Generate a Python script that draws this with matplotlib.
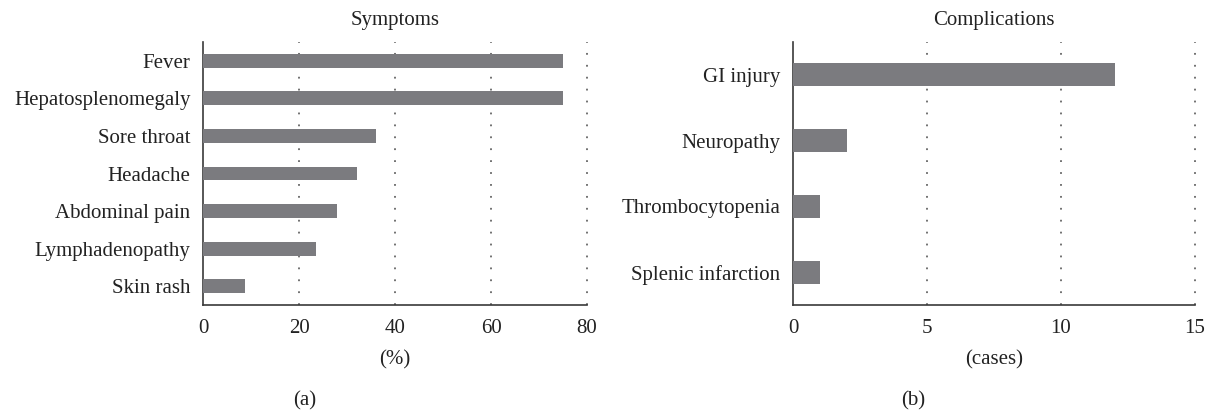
import matplotlib.pyplot as plt

symptoms = ['Fever', 'Hepatosplenomegaly', 'Sore throat', 'Headache',
            'Abdominal pain', 'Lymphadenopathy', 'Skin rash']
symptom_pct = [75, 75, 36, 32, 28, 23.6, 8.7]
sym_ticks = [0, 20, 40, 60, 80]

complications = ['GI injury', 'Neuropathy', 'Thrombocytopenia', 'Splenic infarction']
complication_cases = [12, 2, 1, 1]
comp_ticks = [0, 5, 10, 15]

plt.rcParams['font.family'] = ['Liberation Serif', 'DejaVu Serif']
BAR = '#7b7b7f'
AXC = '#3a3a3a'
TXT = '#222222'
FS = 15

fig = plt.figure(figsize=(12.18, 4.13), dpi=100)
ax1 = fig.add_axes([203 / 1218, 1 - 305 / 413, (587 - 203) / 1218, (305 - 42) / 413])
ax2 = fig.add_axes([793 / 1218, 1 - 305 / 413, (1195 - 793) / 1218, (305 - 42) / 413])


def style(ax, labels, values, ticks, title, xlabel, height):
    ypos = list(range(len(labels)))
    ax.barh(ypos, values, height=height, color=BAR, zorder=3)
    ax.set_ylim(len(labels) - 0.5, -0.5)
    ax.set_xlim(ticks[0], ticks[-1])
    ax.set_xticks(ticks)
    ax.set_yticks(ypos)
    ax.set_yticklabels(labels)
    for t in ticks[1:]:
        ax.axvline(t, color='#666666', lw=1.3, linestyle=(0, (1, 5.6)),
                   zorder=1, clip_on=False)
    for s in ['top', 'right']:
        ax.spines[s].set_visible(False)
    for s in ['left', 'bottom']:
        ax.spines[s].set_color(AXC)
        ax.spines[s].set_linewidth(1.2)
    ax.tick_params(axis='both', length=0, labelsize=FS, colors=TXT)
    ax.tick_params(axis='x', pad=10)
    ax.tick_params(axis='y', pad=9)
    ax.set_title(title, fontsize=FS, color=TXT, pad=12)
    ax.set_xlabel(xlabel, fontsize=FS, color=TXT, labelpad=9)


style(ax1, symptoms, symptom_pct, sym_ticks, 'Symptoms', '(%)', 0.37)
style(ax2, complications, complication_cases, comp_ticks, 'Complications', '(cases)', 0.35)

fig.text(305 / 1218, 1 - 401 / 413, '(a)', ha='center', va='center', fontsize=FS, color=TXT)
fig.text(913 / 1218, 1 - 401 / 413, '(b)', ha='center', va='center', fontsize=FS, color=TXT)

fig.savefig('out.png', dpi=100)
